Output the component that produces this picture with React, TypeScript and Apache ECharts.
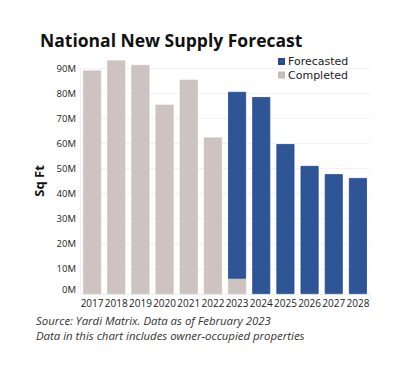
import React, { useEffect, useRef } from "react";
import * as echarts from "echarts";

const years = ["2017", "2018", "2019", "2020", "2021", "2022", "2023", "2024", "2025", "2026", "2027", "2028"];
const completed = [89.0, 93.0, 91.2, 75.4, 85.3, 62.3, 6.1, null, null, null, null, null];
const forecasted = [null, null, null, null, null, null, 74.4, 78.4, 59.7, 51.0, 47.7, 46.2];
const yTicks = { min: 0, max: 90, interval: 10 };
const titleText = "National New Supply Forecast";
const footer1 = "Source: Yardi Matrix. Data as of February 2023";
const footer2 = "Data in this chart includes owner-occupied properties";

export default function App() {
  const ref = useRef<HTMLDivElement>(null);
  useEffect(() => {
    document.body.style.margin = "0";
    const chart = echarts.init(ref.current!, null, { renderer: "svg" });
    const font = "'Open Sans', sans-serif";
    const legendBase = {
      orient: "vertical",
      left: 278,
      itemWidth: 5,
      itemHeight: 5,
      icon: "rect",
      padding: 0,
      textStyle: { fontFamily: "'DejaVu Sans', sans-serif", fontSize: 11, color: "#222222", padding: [0, 0, 0, -1] },
    };
    chart.setOption({
      animation: false,
      backgroundColor: "#ffffff",
      title: {
        text: titleText,
        left: 35,
        top: 26,
        textStyle: { fontFamily: font, fontSize: 17.5, fontWeight: "bold", color: "#111111" },
      },
      legend: [
        { ...legendBase, top: 56, data: ["Forecasted"] },
        { ...legendBase, top: 69.5, data: ["Completed"] },
      ],
      grid: { left: 80, right: 30, top: 68, bottom: 71 },
      xAxis: {
        type: "category",
        data: years,
        axisTick: { show: false },
        axisLine: { show: true, lineStyle: { color: "#eeeeee" } },
        axisLabel: { interval: 0, fontFamily: font, fontSize: 10, color: "#222222", margin: 4 },
      },
      yAxis: {
        type: "value",
        min: yTicks.min,
        max: yTicks.max,
        interval: yTicks.interval,
        name: "Sq Ft",
        nameLocation: "middle",
        nameGap: 32,
        nameTextStyle: { fontFamily: font, fontSize: 13, fontWeight: "bold", color: "#111111" },
        axisLine: { show: true, lineStyle: { color: "#f0f0f0" } },
        axisTick: { show: false },
        splitLine: { lineStyle: { color: "#f2f2f2" } },
        axisLabel: {
          fontFamily: font,
          fontSize: 9.5,
          color: "#222222",
          margin: 4,
          formatter: (v: number) => (v === 0 ? "{z|0M}" : v + "M"),
          rich: { z: { fontFamily: font, fontSize: 9.5, color: "#222222", padding: [0, 0, 10, 0] } },
        },
      },
      series: [
        {
          name: "Completed",
          type: "bar",
          stack: "total",
          data: completed,
          barWidth: 18,
          clip: false,
          itemStyle: { color: "#cdc3c1", borderColor: "#c6bbb9", borderWidth: 0.5 },
        },
        {
          name: "Forecasted",
          type: "bar",
          stack: "total",
          data: forecasted,
          barWidth: 18,
          clip: false,
          itemStyle: { color: "#2f5597", borderColor: "#234a90", borderWidth: 0.8 },
        },
      ],
      graphic: [
        {
          type: "text",
          left: 36,
          top: 315,
          style: { text: footer1, font: "italic 11.4px 'Open Sans', sans-serif", fill: "#333333" },
        },
        {
          type: "text",
          left: 36,
          top: 330,
          style: { text: footer2, font: "italic 11.4px 'Open Sans', sans-serif", fill: "#333333" },
        },
      ],
    });
    return () => chart.dispose();
  }, []);
  return <div ref={ref} style={{ position: "absolute", left: 0, top: 0, width: 400, height: 365 }} />;
}
